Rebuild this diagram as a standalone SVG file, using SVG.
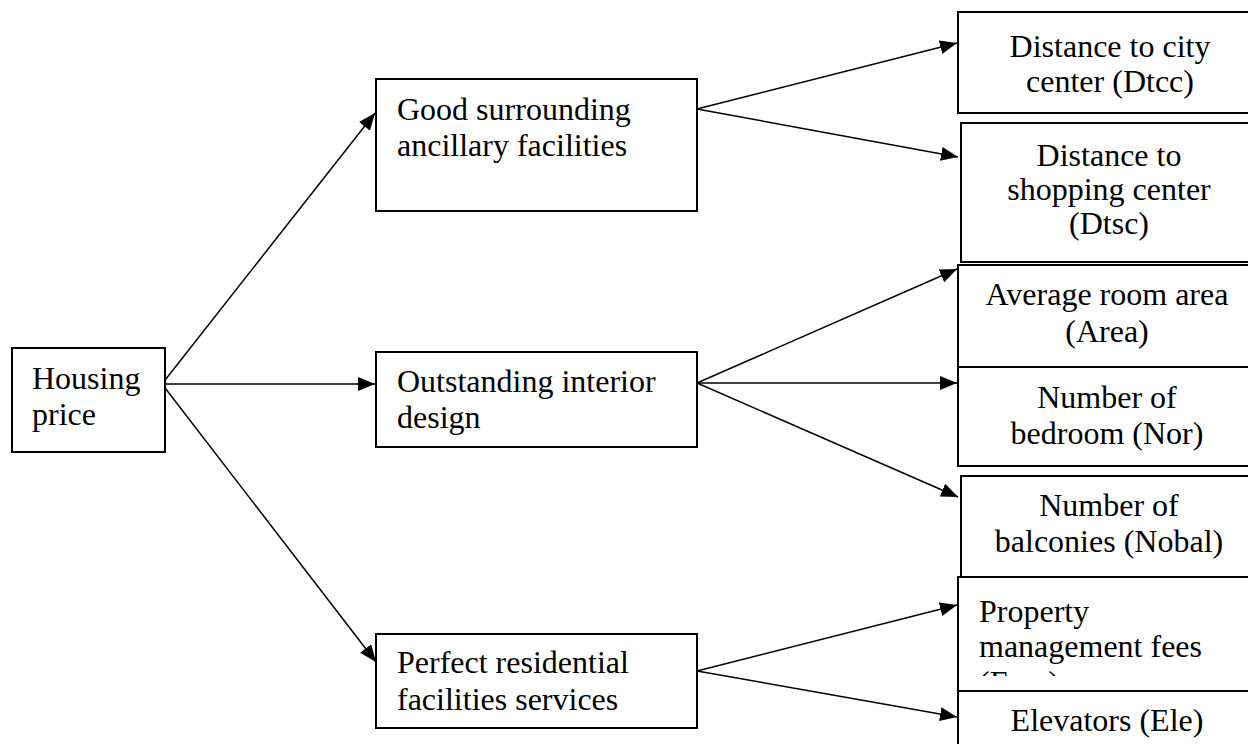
<svg xmlns="http://www.w3.org/2000/svg" width="1248" height="744" viewBox="0 0 1248 744">
<style>
.box{fill:#fff;stroke:#000;stroke-width:2}
.t{font-family:"Liberation Serif","Times New Roman",serif;font-size:32px;fill:#000}
.c{text-anchor:middle}
.ln{stroke:#000;stroke-width:1.5;fill:none;marker-end:url(#ah)}
</style>
<defs>
<marker id="ah" markerUnits="userSpaceOnUse" markerWidth="18" markerHeight="14" refX="17" refY="7" orient="auto">
<path d="M0,0 L17,7 L0,14 z" fill="#000"/>
</marker>
<clipPath id="clipFees"><rect x="958" y="577" width="300" height="99"/></clipPath>
</defs>
<rect width="1248" height="744" fill="#fff"/>
<g id="connectors">
<line class="ln" x1="162" y1="384" x2="375" y2="113"/>
<line class="ln" x1="162" y1="384" x2="375" y2="384"/>
<line class="ln" x1="162" y1="384" x2="376" y2="662"/>
<line class="ln" x1="697" y1="109" x2="957" y2="43"/>
<line class="ln" x1="697" y1="109" x2="958" y2="157"/>
<line class="ln" x1="697" y1="383" x2="957" y2="269"/>
<line class="ln" x1="697" y1="383" x2="957" y2="383"/>
<line class="ln" x1="697" y1="383" x2="958" y2="497"/>
<line class="ln" x1="697" y1="671" x2="957" y2="605"/>
<line class="ln" x1="697" y1="671" x2="957" y2="717"/>
</g>
<g id="housing">
<rect class="box" x="12" y="348" width="153" height="104"/>
<text class="t" x="32" y="389">Housing</text>
<text class="t" x="32" y="425">price</text>
</g>
<g id="good">
<rect class="box" x="376" y="79" width="321" height="132"/>
<text class="t" x="397" y="120">Good surrounding</text>
<text class="t" x="397" y="156">ancillary facilities</text>
</g>
<g id="outstanding">
<rect class="box" x="376" y="352" width="321" height="95"/>
<text class="t" x="397" y="392">Outstanding interior</text>
<text class="t" x="397" y="428">design</text>
</g>
<g id="perfect">
<rect class="box" x="376" y="634" width="321" height="94"/>
<text class="t" x="397" y="673">Perfect residential</text>
<text class="t" x="397" y="710">facilities services</text>
</g>
<g id="dtcc">
<rect class="box" x="958" y="12" width="304" height="101"/>
<text class="t c" x="1110" y="57">Distance to city</text>
<text class="t c" x="1110" y="92">center (Dtcc)</text>
</g>
<g id="dtsc">
<rect class="box" x="961" y="123" width="301" height="139"/>
<text class="t c" x="1109" y="166">Distance to</text>
<text class="t c" x="1109" y="200">shopping center</text>
<text class="t c" x="1109" y="234">(Dtsc)</text>
</g>
<g id="area">
<rect class="box" x="958" y="265" width="304" height="102"/>
<text class="t c" x="1107" y="305">Average room area</text>
<text class="t c" x="1107" y="342">(Area)</text>
</g>
<g id="nor">
<rect class="box" x="958" y="367" width="304" height="99"/>
<text class="t c" x="1107" y="408">Number of</text>
<text class="t c" x="1107" y="444">bedroom (Nor)</text>
</g>
<g id="nobal">
<rect class="box" x="961" y="476" width="301" height="101"/>
<text class="t c" x="1109" y="516">Number of</text>
<text class="t c" x="1109" y="552">balconies (Nobal)</text>
</g>
<g id="fees">
<rect class="box" x="958" y="577" width="304" height="114"/>
<text class="t" x="979" y="622">Property</text>
<text class="t" x="979" y="657">management fees</text>
<text class="t" x="979" y="693" clip-path="url(#clipFees)">(Fees)</text>
</g>
<g id="ele">
<rect class="box" x="958" y="691" width="304" height="60"/>
<text class="t c" x="1107" y="731">Elevators (Ele)</text>
</g>
</svg>
